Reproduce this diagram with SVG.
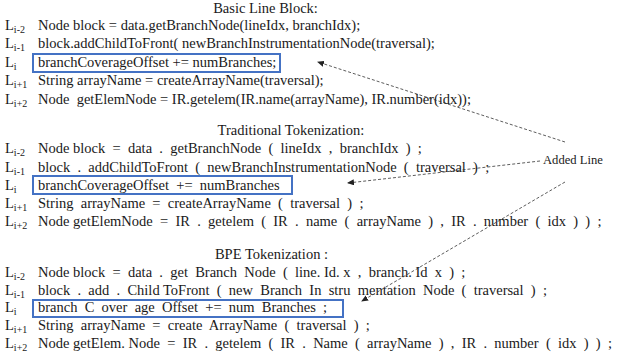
<svg xmlns="http://www.w3.org/2000/svg" width="623" height="358" viewBox="0 0 623 358">
<style>
text{font-family:"Liberation Serif","Times New Roman",serif;fill:#1a1a1a;white-space:pre}
.t{font-size:14.5px}
.h{font-size:14.5px;text-anchor:middle}
.l{font-size:14.5px}
.s{font-size:10px}
.box{fill:none;stroke:#4472c4;stroke-width:2}
.lab{font-size:12.6px}
.con{fill:none;stroke:#333;stroke-width:0.8;stroke-dasharray:3,2}
</style>
<defs>
<marker id="ah" markerWidth="7" markerHeight="6" refX="6" refY="3" orient="auto" markerUnits="userSpaceOnUse">
<path d="M0,0 L7,3 L0,6 Z" fill="#222"/>
</marker>
</defs>
<g id="basic">
<text class="h" x="265.5" y="13">Basic Line Block:</text>
<text class="l" x="5" y="29.5">L<tspan class="s" dy="3">i-2</tspan></text>
<text class="l" x="5" y="48">L<tspan class="s" dy="3">i-1</tspan></text>
<text class="l" x="5" y="66.5">L<tspan class="s" dy="3">i</tspan></text>
<text class="l" x="5" y="85">L<tspan class="s" dy="3">i+1</tspan></text>
<text class="l" x="5" y="103.5">L<tspan class="s" dy="3">i+2</tspan></text>
<text class="t" x="38" y="29.5">Node block = data.getBranchNode(lineIdx, branchIdx);</text>
<text class="t" x="38" y="48">block.addChildToFront( newBranchInstrumentationNode(traversal);</text>
<text class="t" x="38" y="85">String arrayName = createArrayName(traversal);</text>
<text class="t" x="38" y="103.5">Node  getElemNode = IR.getelem(IR.name(arrayName), IR.number(idx));</text>
</g>
<g id="basic-added">
<rect class="box" x="33" y="54" width="247" height="18"/>
<text class="t" x="38" y="66.5">branchCoverageOffset += numBranches;</text>
</g>
<g id="traditional">
<text class="h" x="291" y="135">Traditional Tokenization:</text>
<text class="l" x="5" y="153">L<tspan class="s" dy="3">i-2</tspan></text>
<text class="l" x="5" y="171.5">L<tspan class="s" dy="3">i-1</tspan></text>
<text class="l" x="5" y="190">L<tspan class="s" dy="3">i</tspan></text>
<text class="l" x="5" y="208">L<tspan class="s" dy="3">i+1</tspan></text>
<text class="l" x="5" y="226">L<tspan class="s" dy="3">i+2</tspan></text>
<text class="t" x="38" y="153">Node block  =  data  .  getBranchNode  (  lineIdx  ,  branchIdx  )  ;</text>
<text class="t" x="38" y="171.5">block  .  addChildToFront  (  newBranchInstrumentationNode  (  traversal  )  ;</text>
<text class="t" x="38" y="208">String  arrayName  =  createArrayName  (  traversal  )  ;</text>
<text class="t" x="38" y="226">Node getElemNode  =  IR  .  getelem  (  IR  .  name  (  arrayName  )  ,  IR  .  number  (  idx  )  )  ;</text>
</g>
<g id="traditional-added">
<rect class="box" x="33" y="176" width="259" height="18"/>
<text class="t" x="38" y="190">branchCoverageOffset  +=  numBranches</text>
</g>
<g id="bpe">
<text class="h" x="271.5" y="259">BPE Tokenization :</text>
<text class="l" x="5" y="277">L<tspan class="s" dy="3">i-2</tspan></text>
<text class="l" x="5" y="295">L<tspan class="s" dy="3">i-1</tspan></text>
<text class="l" x="5" y="312">L<tspan class="s" dy="3">i</tspan></text>
<text class="l" x="5" y="330">L<tspan class="s" dy="3">i+1</tspan></text>
<text class="l" x="5" y="348">L<tspan class="s" dy="3">i+2</tspan></text>
<text class="t" x="38" y="277">Node block  =  data  .  get  Branch  Node  (  line. Id. x  ,  branch. Id  x  )  ;</text>
<text class="t" x="38" y="295">block  .  add  .  Child ToFront  (  new  Branch  In  stru  mentation  Node  (  traversal  )  ;</text>
<text class="t" x="38" y="330">String  arrayName  =  create  ArrayName  (  traversal  )  ;</text>
<text class="t" x="38" y="348">Node getElem. Node  =  IR  .  getelem  (  IR  .  Name  (  arrayName  )  ,  IR  .  number  (  idx  )  )  ;</text>
</g>
<g id="bpe-added">
<rect class="box" x="33" y="300" width="310" height="17"/>
<text class="t" x="38" y="312">branch  C  over  age  Offset  +=  num  Branches  ;</text>
</g>
<g id="added-line-label">
<text class="lab" x="543" y="164">Added Line</text>
</g>
<g id="connectors">
<line class="con" x1="565" y1="142" x2="318" y2="62" marker-end="url(#ah)"/>
<line class="con" x1="540" y1="161" x2="348" y2="183" marker-end="url(#ah)"/>
<line class="con" x1="565" y1="182" x2="362" y2="301" marker-end="url(#ah)"/>
</g>
</svg>
